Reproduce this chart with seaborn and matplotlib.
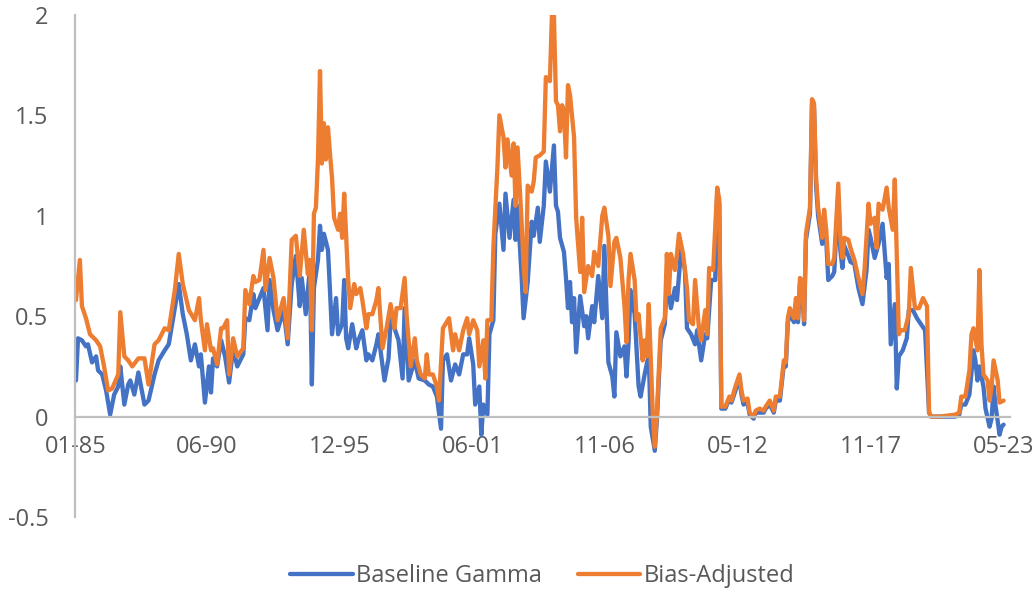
import pandas as pd
import matplotlib
matplotlib.use("Agg")
import matplotlib.pyplot as plt
import seaborn as sns

# Monthly observations, indexed as months elapsed since January 1985
baseline_month = [
    0, 1, 3, 5, 6, 8, 10, 11, 13, 15, 17, 19, 21, 22, 24, 26, 27, 29, 31, 34,
    36, 39, 41, 44, 46, 49, 51, 53, 55, 57, 59, 61, 62, 64, 66, 67, 68, 70, 72, 74,
    76, 78, 80, 83, 84, 86, 88, 89, 91, 93, 95, 96, 98, 100, 103, 105, 107, 109, 111, 112,
    114, 116, 117, 118, 120, 121, 122, 123, 125, 126, 127, 129, 130, 132, 133, 134, 135, 137, 139, 140,
    142, 144, 145, 147, 149, 150, 153, 155, 156, 158, 160, 162, 163, 165, 168, 170, 173, 175, 177, 179,
    181, 182, 184, 186, 188, 190, 192, 194, 195, 197, 198, 200, 201, 202, 204, 205, 207, 208, 210, 212,
    213, 215, 217, 218, 219, 221, 222, 224, 226, 227, 229, 230, 232, 233, 235, 237, 238, 239, 240, 242,
    243, 244, 245, 246, 247, 248, 250, 252, 253, 254, 256, 257, 259, 261, 262, 264, 266, 267, 268, 270,
    272, 273, 274, 275, 277, 279, 280, 282, 284, 285, 287, 288, 290, 292, 293, 295, 297, 298, 300, 302,
    303, 305, 307, 308, 310, 312, 313, 315, 317, 318, 319, 320, 322, 324, 325, 327, 329, 330, 331, 333,
    334, 336, 337, 339, 341, 342, 344, 346, 347, 349, 351, 352, 353, 354, 356, 357, 358, 359, 360, 361,
    362, 364, 365, 366, 367, 368, 370, 371, 372, 373, 375, 376, 378, 379, 380, 381, 383, 384, 386, 388,
    390, 392, 393, 394, 396, 398, 400, 402, 403, 404, 406, 407, 408, 410, 412, 413, 415, 417, 419, 421,
    423, 424, 428, 432, 436, 438, 439, 441, 443, 445, 446, 447, 448, 450, 451, 453, 454, 455, 456, 458,
    459, 460,
]
baseline_gamma = [
    0.18, 0.39, 0.38, 0.35, 0.36, 0.27, 0.30, 0.23, 0.21, 0.13, 0.01, 0.11, 0.15, 0.25, 0.06, 0.16, 0.18, 0.11, 0.22, 0.06,
    0.08, 0.21, 0.28, 0.33, 0.36, 0.54, 0.66, 0.51, 0.41, 0.28, 0.36, 0.25, 0.31, 0.07, 0.25, 0.12, 0.29, 0.25, 0.38, 0.30,
    0.17, 0.34, 0.25, 0.31, 0.49, 0.48, 0.61, 0.54, 0.59, 0.64, 0.43, 0.68, 0.53, 0.43, 0.53, 0.36, 0.66, 0.80, 0.55, 0.69,
    0.51, 0.74, 0.16, 0.64, 0.78, 0.95, 0.83, 0.91, 0.83, 0.63, 0.41, 0.59, 0.41, 0.46, 0.68, 0.39, 0.34, 0.46, 0.34, 0.38,
    0.43, 0.28, 0.31, 0.28, 0.36, 0.41, 0.18, 0.29, 0.48, 0.44, 0.38, 0.19, 0.54, 0.18, 0.28, 0.19, 0.18, 0.16, 0.15, 0.10,
    -0.06, 0.28, 0.31, 0.18, 0.26, 0.21, 0.31, 0.31, 0.39, 0.26, 0.06, 0.15, -0.09, 0.06, 0.01, 0.41, 0.48, 0.91, 1.06, 0.83,
    1.11, 0.89, 1.08, 0.88, 1.05, 0.70, 0.49, 0.67, 0.97, 0.90, 1.04, 0.87, 1.05, 1.27, 1.12, 1.35, 1.05, 1.02, 0.89, 0.82,
    0.69, 0.54, 0.67, 0.47, 0.59, 0.32, 0.60, 0.45, 0.50, 0.39, 0.55, 0.47, 0.70, 0.49, 0.85, 0.27, 0.20, 0.10, 0.42, 0.30,
    0.35, 0.20, 0.37, 0.63, 0.51, 0.15, 0.10, 0.21, 0.31, -0.05, -0.17, -0.02, 0.38, 0.46, 0.68, 0.54, 0.64, 0.58, 0.83, 0.73,
    0.44, 0.41, 0.36, 0.43, 0.28, 0.41, 0.39, 0.68, 0.68, 1.12, 1.06, 0.04, 0.04, 0.09, 0.07, 0.13, 0.19, 0.11, 0.06, 0.07,
    0.01, -0.01, 0.02, 0.02, 0.02, 0.04, 0.06, 0.02, 0.08, 0.08, 0.26, 0.25, 0.47, 0.51, 0.47, 0.56, 0.47, 0.66, 0.65, 0.46,
    0.88, 1.01, 1.56, 1.54, 1.15, 1.00, 0.86, 0.98, 0.88, 0.68, 0.70, 0.72, 1.10, 0.83, 0.74, 0.85, 0.80, 0.77, 0.76, 0.64,
    0.56, 0.73, 0.93, 0.89, 0.79, 0.86, 0.96, 0.69, 0.76, 0.36, 0.56, 0.14, 0.30, 0.33, 0.39, 0.53, 0.53, 0.49, 0.46, 0.43,
    0.02, 0.00, 0.00, 0.00, 0.00, 0.01, 0.06, 0.06, 0.11, 0.33, 0.28, 0.18, 0.25, 0.15, 0.04, -0.05, -0.01, 0.15, 0.05, -0.09,
    -0.05, -0.04,
]

adjusted_month = [
    0, 2, 3, 5, 7, 10, 12, 14, 16, 18, 21, 22, 24, 26, 28, 31, 34, 36, 39, 41,
    44, 46, 49, 51, 53, 56, 59, 61, 62, 64, 65, 67, 68, 70, 72, 73, 75, 76, 78, 80,
    83, 84, 86, 88, 89, 91, 93, 94, 96, 98, 100, 103, 105, 107, 109, 111, 113, 115, 116, 117,
    118, 119, 120, 121, 122, 123, 124, 125, 126, 127, 128, 130, 131, 132, 133, 135, 136, 138, 139, 141,
    142, 144, 145, 147, 149, 150, 152, 154, 156, 158, 159, 161, 163, 164, 166, 168, 169, 171, 173, 174,
    175, 177, 179, 180, 182, 185, 187, 188, 190, 192, 194, 195, 197, 199, 200, 202, 203, 204, 206, 207,
    209, 210, 212, 213, 214, 216, 217, 218, 219, 221, 222, 223, 224, 226, 227, 228, 230, 232, 233, 235,
    236, 237, 238, 239, 240, 241, 242, 243, 244, 245, 247, 248, 250, 251, 252, 254, 256, 257, 259, 261,
    262, 264, 265, 267, 268, 270, 272, 273, 274, 275, 277, 278, 279, 281, 282, 283, 284, 286, 287, 288,
    290, 292, 293, 294, 295, 297, 298, 299, 301, 303, 304, 306, 307, 309, 310, 312, 313, 314, 316, 318,
    319, 320, 322, 324, 325, 327, 329, 330, 331, 333, 334, 336, 337, 339, 341, 342, 344, 346, 347, 349,
    351, 352, 353, 354, 356, 357, 358, 359, 360, 361, 362, 364, 365, 366, 367, 368, 370, 371, 372, 373,
    375, 376, 378, 379, 380, 381, 383, 384, 386, 388, 390, 391, 393, 394, 396, 397, 398, 400, 402, 403,
    405, 406, 407, 408, 409, 411, 413, 414, 416, 418, 420, 422, 423, 424, 428, 432, 436, 438, 439, 441,
    443, 444, 445, 447, 448, 449, 450, 452, 453, 454, 455, 457, 458, 460,
]
bias_adjusted = [
    0.58, 0.78, 0.55, 0.49, 0.41, 0.38, 0.35, 0.25, 0.13, 0.14, 0.21, 0.52, 0.30, 0.28, 0.25, 0.29, 0.29, 0.16, 0.36, 0.38,
    0.44, 0.43, 0.63, 0.81, 0.66, 0.53, 0.48, 0.59, 0.48, 0.33, 0.46, 0.33, 0.34, 0.26, 0.44, 0.44, 0.48, 0.21, 0.39, 0.30,
    0.34, 0.63, 0.56, 0.70, 0.67, 0.68, 0.83, 0.63, 0.79, 0.69, 0.48, 0.59, 0.39, 0.88, 0.90, 0.70, 0.93, 0.71, 0.78, 0.43,
    1.01, 1.04, 1.28, 1.72, 1.26, 1.46, 1.28, 1.44, 1.31, 1.19, 0.99, 0.93, 1.01, 0.89, 1.11, 0.68, 0.54, 0.66, 0.61, 0.64,
    0.58, 0.44, 0.51, 0.51, 0.58, 0.64, 0.34, 0.44, 0.56, 0.44, 0.54, 0.54, 0.69, 0.50, 0.25, 0.39, 0.28, 0.21, 0.19, 0.31,
    0.21, 0.21, 0.15, 0.08, 0.44, 0.49, 0.33, 0.41, 0.33, 0.43, 0.49, 0.41, 0.48, 0.43, 0.25, 0.38, 0.19, 0.48, 0.48, 0.84,
    1.24, 1.50, 1.39, 1.24, 1.38, 1.20, 1.36, 1.05, 1.34, 0.97, 0.75, 0.62, 1.15, 1.12, 1.17, 1.29, 1.30, 1.32, 1.69, 1.67,
    2.00, 2.00, 1.57, 1.55, 1.42, 1.55, 1.52, 1.29, 1.65, 1.60, 1.39, 0.99, 0.72, 0.99, 0.62, 0.75, 0.70, 0.82, 0.75, 1.00,
    1.04, 0.90, 0.65, 0.87, 0.89, 0.79, 0.55, 0.37, 0.68, 0.81, 0.68, 0.48, 0.51, 0.28, 0.38, 0.30, 0.56, 0.01, -0.15, 0.01,
    0.44, 0.49, 0.81, 0.61, 0.81, 0.73, 0.81, 0.91, 0.81, 0.64, 0.48, 0.46, 0.68, 0.43, 0.38, 0.53, 0.41, 0.74, 0.73, 1.14,
    1.08, 0.05, 0.05, 0.10, 0.08, 0.15, 0.21, 0.13, 0.08, 0.09, 0.02, 0.00, 0.03, 0.04, 0.03, 0.05, 0.08, 0.03, 0.10, 0.10,
    0.28, 0.27, 0.49, 0.54, 0.49, 0.59, 0.49, 0.69, 0.68, 0.48, 0.91, 1.04, 1.58, 1.56, 1.19, 1.04, 0.89, 1.03, 0.93, 0.76,
    0.76, 0.79, 1.16, 0.89, 0.79, 0.89, 0.88, 0.84, 0.78, 0.69, 0.61, 0.73, 1.06, 0.96, 0.99, 0.84, 1.06, 1.03, 1.14, 1.04,
    0.93, 1.18, 0.81, 0.41, 0.43, 0.43, 0.51, 0.74, 0.54, 0.54, 0.59, 0.55, 0.02, 0.00, 0.00, 0.005, 0.01, 0.02, 0.10, 0.10,
    0.23, 0.41, 0.44, 0.33, 0.73, 0.36, 0.21, 0.18, 0.08, 0.15, 0.28, 0.18, 0.07, 0.08,
]

series_names = ["Baseline Gamma", "Bias-Adjusted"]
series_colors = ["#4472C4", "#ED7D31"]
y_ticks = [-0.5, 0, 0.5, 1, 1.5, 2]
y_tick_labels = ["-0.5", "0", "0.5", "1", "1.5", "2"]
x_tick_labels = ["01-85", "06-90", "12-95", "06-01", "11-06", "05-12", "11-17", "05-23"]

start = pd.Timestamp("1985-01-01")


def to_dates(months):
    return [start + pd.DateOffset(months=int(m)) for m in months]


def label_to_date(label):
    month, yy = int(label[:2]), int(label[3:])
    year = 2000 + yy if yy < 50 else 1900 + yy
    return pd.Timestamp(year=year, month=month, day=1)


frame = pd.concat([
    pd.DataFrame({"date": to_dates(baseline_month), "value": baseline_gamma,
                  "series": series_names[0]}),
    pd.DataFrame({"date": to_dates(adjusted_month), "value": bias_adjusted,
                  "series": series_names[1]}),
], ignore_index=True)

sns.set_theme(style="white")
plt.rcParams["font.family"] = ["Open Sans", "DejaVu Sans"]
text_color = "#595959"
axis_color = "#BFBFBF"
font_size = 17

fig = plt.figure(figsize=(10.34, 5.93), dpi=100)
ax = fig.add_axes([0.0725, 0.128, 0.904, 0.847])

sns.lineplot(data=frame, x="date", y="value", hue="series", hue_order=series_names,
             palette=series_colors, estimator=None, sort=False, linewidth=3.1,
             ax=ax)
for line in ax.get_lines():
    line.set_solid_joinstyle("round")
    line.set_solid_capstyle("round")

ax.set_ylim(-0.5, 2)
ax.set_xlim(start - pd.DateOffset(days=15), start + pd.DateOffset(months=463))
ax.set_yticks(y_ticks)
ax.set_yticklabels(y_tick_labels)
ax.set_xticks([label_to_date(l) for l in x_tick_labels])
ax.set_xticklabels(x_tick_labels)

ax.set_xlabel("")
ax.set_ylabel("")
ax.grid(False)
for side in ("top", "right"):
    ax.spines[side].set_visible(False)
ax.spines["bottom"].set_position(("data", 0))
for side in ("left", "bottom"):
    ax.spines[side].set_color(axis_color)
    ax.spines[side].set_linewidth(1.6)
ax.tick_params(axis="both", length=0, labelsize=font_size, labelcolor=text_color)
ax.tick_params(axis="y", pad=19)
ax.tick_params(axis="x", pad=13)

handles, labels = ax.get_legend_handles_labels()
leg = ax.legend(handles, labels, loc="center", bbox_to_anchor=(0.5, -0.117),
                ncol=2, frameon=False, fontsize=font_size, handlelength=2.65,
                handletextpad=0.15, columnspacing=1.5, labelcolor=text_color)
for h in leg.get_lines():
    h.set_linewidth(3.1)

fig.savefig("out.png", dpi=100)
